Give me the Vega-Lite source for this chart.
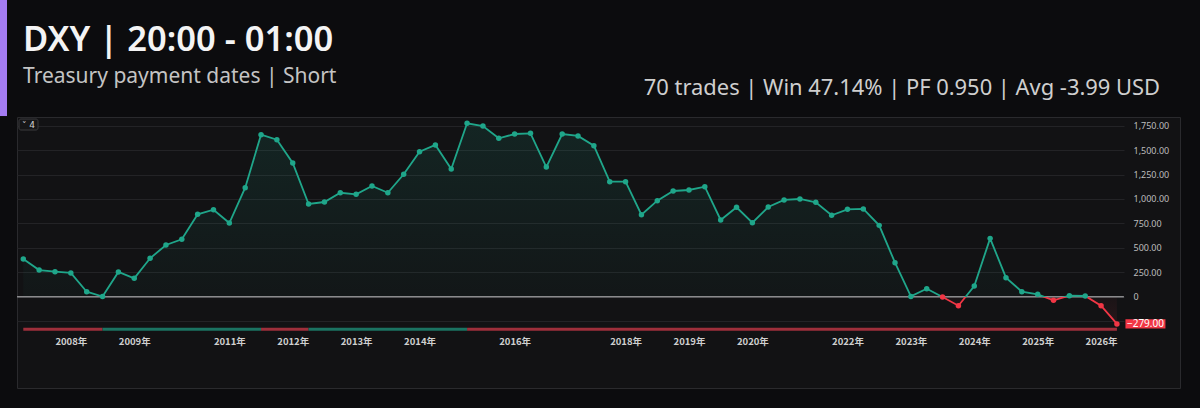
{
  "$schema": "https://vega.github.io/schema/vega-lite/v6.json",
  "width": 1163,
  "height": 271,
  "autosize": "none",
  "padding": {"left": 17, "top": 117, "right": 20, "bottom": 20},
  "background": "#0c0c0e",
  "data": {
    "values": [
      {"i": 1, "v": 386}, {"i": 2, "v": 273}, {"i": 3, "v": 256}, {"i": 4, "v": 243}, {"i": 5, "v": 51},
      {"i": 6, "v": 2}, {"i": 7, "v": 253}, {"i": 8, "v": 188}, {"i": 9, "v": 393}, {"i": 10, "v": 529},
      {"i": 11, "v": 587}, {"i": 12, "v": 843}, {"i": 13, "v": 890}, {"i": 14, "v": 754}, {"i": 15, "v": 1116},
      {"i": 16, "v": 1658}, {"i": 17, "v": 1607}, {"i": 18, "v": 1368}, {"i": 19, "v": 949}, {"i": 20, "v": 969},
      {"i": 21, "v": 1064}, {"i": 22, "v": 1048}, {"i": 23, "v": 1133}, {"i": 24, "v": 1064}, {"i": 25, "v": 1253},
      {"i": 26, "v": 1484}, {"i": 27, "v": 1553}, {"i": 28, "v": 1307}, {"i": 29, "v": 1775}, {"i": 30, "v": 1747},
      {"i": 31, "v": 1621}, {"i": 32, "v": 1665}, {"i": 33, "v": 1672}, {"i": 34, "v": 1327}, {"i": 35, "v": 1665},
      {"i": 36, "v": 1645}, {"i": 37, "v": 1546}, {"i": 38, "v": 1177}, {"i": 39, "v": 1177}, {"i": 40, "v": 839},
      {"i": 41, "v": 983}, {"i": 42, "v": 1082}, {"i": 43, "v": 1092}, {"i": 44, "v": 1126}, {"i": 45, "v": 785},
      {"i": 46, "v": 915}, {"i": 47, "v": 757}, {"i": 48, "v": 918}, {"i": 49, "v": 990}, {"i": 50, "v": 1000},
      {"i": 51, "v": 966}, {"i": 52, "v": 833}, {"i": 53, "v": 894}, {"i": 54, "v": 898}, {"i": 55, "v": 730},
      {"i": 56, "v": 348}, {"i": 57, "v": 3}, {"i": 58, "v": 82}, {"i": 59, "v": -3}, {"i": 60, "v": -92},
      {"i": 61, "v": 110}, {"i": 62, "v": 597}, {"i": 63, "v": 195}, {"i": 64, "v": 51}, {"i": 65, "v": 24},
      {"i": 66, "v": -37}, {"i": 67, "v": 10}, {"i": 68, "v": 7}, {"i": 69, "v": -92}, {"i": 70, "v": -279}
    ]
  },
  "layer": [
    {
      "data": {"values": [{}]},
      "mark": {"type": "rect", "color": "#a47cf2"},
      "encoding": {
        "x": {"datum": -0.47},
        "x2": {"datum": -0.03},
        "y": {"datum": 3037},
        "y2": {"datum": 1849}
      }
    },
    {
      "data": {"values": [{}]},
      "mark": {
        "type": "text",
        "text": "DXY | 20:00 - 01:00",
        "align": "left",
        "baseline": "alphabetic",
        "font": "Noto Sans",
        "fontSize": 34.5,
        "fontWeight": 600,
        "color": "#f4f4f4"
      },
      "encoding": {
        "x": {"datum": 0.981},
        "y": {"datum": 2517}
      }
    },
    {
      "data": {"values": [{}]},
      "mark": {
        "type": "text",
        "text": "Treasury payment dates | Short",
        "align": "left",
        "baseline": "alphabetic",
        "font": "Noto Sans",
        "fontSize": 21,
        "color": "#c4c4c4"
      },
      "encoding": {
        "x": {"datum": 0.981},
        "y": {"datum": 2184}
      }
    },
    {
      "mark": {
        "type": "area",
        "line": false,
        "fill": {
          "gradient": "linear", "x1": 0, "y1": 0, "x2": 0, "y2": 1,
          "stops": [
            {"offset": 0, "color": "rgba(31,166,138,0.13)"},
            {"offset": 0.86417, "color": "rgba(31,166,138,0.03)"},
            {"offset": 0.86417, "color": "rgba(240,64,79,0.03)"},
            {"offset": 1, "color": "rgba(240,64,79,0.10)"}
          ]
        }
      },
      "encoding": {
        "x": {
          "field": "i",
          "type": "quantitative",
          "scale": {"domain": [0.6025, 73.98], "nice": false, "zero": false},
          "axis": {
            "orient": "bottom",
            "title": null,
            "values": [4, 8, 14, 18, 22, 26, 32, 39, 43, 47, 53, 57, 61, 65, 69],
            "tickCount": 100,
            "labelExpr": "['2008年','2009年','2011年','2012年','2013年','2014年','2016年','2018年','2019年','2020年','2022年','2023年','2024年','2025年','2026年'][indexof([4, 8, 14, 18, 22, 26, 32, 39, 43, 47, 53, 57, 61, 65, 69], datum.value)]",
            "grid": false,
            "ticks": false,
            "domain": false,
            "offset": -57,
            "labelPadding": 5,
            "labelFont": "Noto Sans CJK SC",
            "labelFontSize": 9.5,
            "labelFontWeight": "bold",
            "labelColor": "#cfcfcf",
            "labelOverlap": false,
            "labelFlush": false,
            "labelBound": false
          }
        },
        "y": {
          "field": "v",
          "type": "quantitative",
          "scale": {"domain": [-934.4, 1839.1], "nice": false, "zero": false},
          "axis": {
            "orient": "right",
            "title": null,
            "values": [-250, 0, 250, 500, 750, 1000, 1250, 1500, 1750],
            "tickCount": 100,
            "labelExpr": "datum.value < 0 ? '' : datum.value == 0 ? '0' : format(datum.value, ',.2f')",
            "grid": false,
            "domain": false,
            "ticks": true,
            "tickSize": -1107,
            "tickColor": "#232326",
            "tickWidth": 1,
            "offset": -56,
            "labelPadding": 1116,
            "labelFont": "Noto Sans",
            "labelFontSize": 9,
            "labelColor": "#bdbdbd",
            "labelAlign": "left",
            "labelBaseline": "middle",
            "labelFlush": false,
            "labelOverlap": false,
            "labelBound": false
          }
        },
        "y2": {"datum": 0}
      }
    },
    {
      "data": {"values": [{}]},
      "mark": {"type": "rule", "color": "#8a8a8c", "strokeWidth": 1.5},
      "encoding": {
        "x": {"datum": 0.6025},
        "x2": {"datum": 70.44},
        "y": {"datum": 0}
      }
    },
    {
      "data": {
        "values": [
          {"s": 1, "e": 6, "t": "down"},
          {"s": 6, "e": 16, "t": "up"},
          {"s": 16, "e": 19, "t": "down"},
          {"s": 19, "e": 29, "t": "up"},
          {"s": 29, "e": 70, "t": "down"}
        ]
      },
      "mark": {"type": "rule", "strokeWidth": 3},
      "encoding": {
        "x": {"field": "s", "type": "quantitative"},
        "x2": {"field": "e"},
        "y": {"datum": -334},
        "color": {
          "field": "t",
          "type": "nominal",
          "scale": {"domain": ["down", "up"], "range": ["#9e2f3b", "#1b7362"]},
          "legend": null
        }
      }
    },
    {
      "mark": {
        "type": "line",
        "strokeWidth": 1.8,
        "stroke": {
          "gradient": "linear", "x1": 0, "y1": 0, "x2": 0, "y2": 1,
          "stops": [
            {"offset": 0, "color": "#1fa68a"},
            {"offset": 0.86417, "color": "#1fa68a"},
            {"offset": 0.86417, "color": "#f23645"},
            {"offset": 1, "color": "#f23645"}
          ]
        }
      },
      "encoding": {
        "x": {"field": "i", "type": "quantitative"},
        "y": {"field": "v", "type": "quantitative"}
      }
    },
    {
      "mark": {"type": "point", "filled": true, "size": 30, "opacity": 1},
      "encoding": {
        "x": {"field": "i", "type": "quantitative"},
        "y": {"field": "v", "type": "quantitative"},
        "color": {"condition": {"test": "datum.v < 0", "value": "#f23645"}, "value": "#1fa68a"}
      }
    },
    {
      "transform": [{"filter": "datum.i == 70"}],
      "mark": {
        "type": "point",
        "shape": "M-1,-0.23L1,-0.23L1,0.23L-1,0.23Z",
        "size": 1600,
        "filled": true,
        "color": "#f23645",
        "opacity": 1
      },
      "encoding": {
        "x": {"datum": 71.8},
        "y": {"field": "v", "type": "quantitative"}
      }
    },
    {
      "transform": [{"filter": "datum.i == 70"}],
      "mark": {"type": "text", "color": "#ffffff", "fontSize": 10, "font": "Noto Sans", "align": "center", "baseline": "middle"},
      "encoding": {
        "x": {"datum": 71.8},
        "y": {"field": "v", "type": "quantitative"},
        "text": {"field": "v", "type": "quantitative", "format": ",.2f"}
      }
    },
    {
      "data": {"values": [{}]},
      "mark": {
        "type": "text",
        "text": "70 trades | Win 47.14% | PF 0.950 | Avg -3.99 USD",
        "align": "right",
        "baseline": "alphabetic",
        "font": "Noto Sans",
        "fontSize": 21.9,
        "color": "#cfcfcf"
      },
      "encoding": {
        "x": {"datum": 72.72},
        "y": {"datum": 2064}
      }
    },
    {
      "data": {"values": [{}]},
      "mark": {"type": "rect", "fill": "#151517", "stroke": "#3a3a3d", "strokeWidth": 1, "cornerRadius": 2},
      "encoding": {
        "x": {"datum": 0.729},
        "x2": {"datum": 1.927},
        "y": {"datum": 1818},
        "y2": {"datum": 1706}
      }
    },
    {
      "data": {"values": [{}]},
      "mark": {"type": "text", "text": "˅ 4", "font": "DejaVu Sans", "fontSize": 9, "color": "#d0d0d0", "align": "center", "baseline": "middle"},
      "encoding": {
        "x": {"datum": 1.33},
        "y": {"datum": 1762}
      }
    }
  ],
  "config": {
    "view": {"fill": "#121214", "stroke": "#2a2a2d", "strokeWidth": 1}
  }
}
